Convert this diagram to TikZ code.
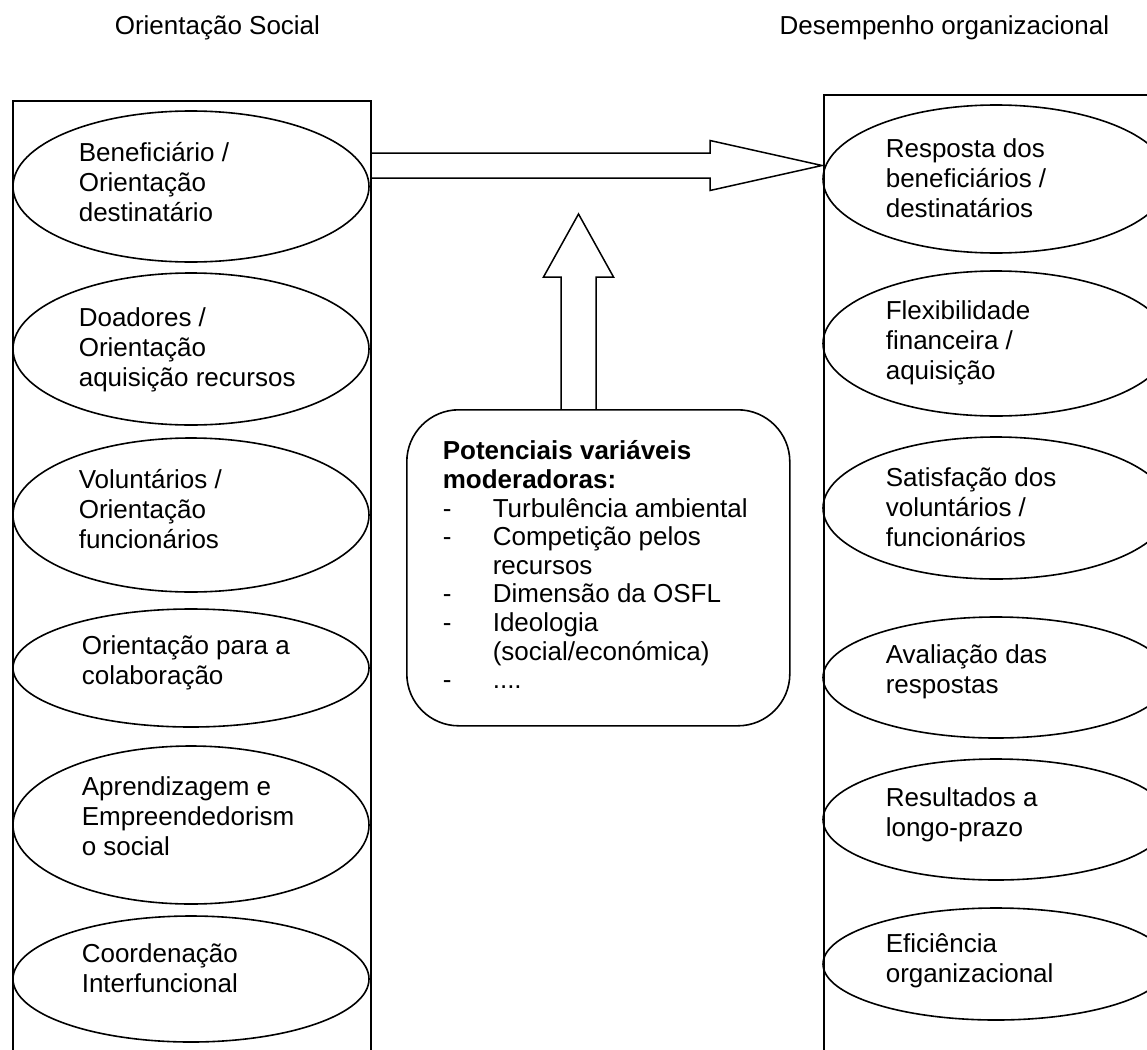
\documentclass[tikz,border=0pt]{standalone}
\usepackage{fontspec}
\setmainfont{Liberation Sans}
\usetikzlibrary{shapes.geometric,calc}
\newcommand\lsa{\rule[-7pt]{0pt}{23pt}}
\newcommand\lsb{\rule[-6.6pt]{0pt}{22pt}}
\newcommand\dsh{\makebox[50pt][l]{-}}
\begin{document}
\begin{tikzpicture}[x=1pt,y=-1pt,line width=1.6pt,
  ell/.style={draw,ellipse,inner sep=0pt},
  frame/.style={draw,rectangle,inner sep=0pt,anchor=north west},
  txt/.style={anchor=north west,inner sep=0pt,align=left,font=\fontsize{26}{30}\selectfont},
  ttl/.style={inner sep=0pt,font=\fontsize{26}{30}\selectfont},
  blk/.style={draw,line width=1.5pt,line join=miter}]
\useasboundingbox (0,0) rectangle (1147,1049);
\clip (0,0) rectangle (1147,1049);

% titles
\node[ttl,anchor=base west] (tl) at (114,35) {Orientação Social};
\node[ttl,anchor=base east] (tr) at (1110,35) {Desempenho organizacional};

% frames
\node[frame,minimum width=358pt,minimum height=1000pt] (lbox) at (12,100) {};
\node[frame,minimum width=400pt,minimum height=1000pt] (rbox) at (823,94) {};

% left ellipses
\node[ell,minimum width=356pt,minimum height=151pt] (l1) at (191,186.5) {};
\node[ell,minimum width=356pt,minimum height=152pt] (l2) at (191,349) {};
\node[ell,minimum width=356pt,minimum height=154pt] (l3) at (191,515) {};
\node[ell,minimum width=356pt,minimum height=118pt] (l4) at (191,668) {};
\node[ell,minimum width=356pt,minimum height=158pt] (l5) at (191,825) {};
\node[ell,minimum width=356pt,minimum height=126pt] (l6) at (191,979) {};

\node[txt] (t1) at (78,142) {\lsa Beneficiário /\\\lsa Orientação\\\lsa destinatário};
\node[txt] (t2) at (78,307) {\lsa Doadores /\\\lsa Orientação\\\lsa aquisição recursos};
\node[txt] (t3) at (78,469) {\lsa Voluntários /\\\lsa Orientação\\\lsa funcionários};
\node[txt] (t4) at (81,635) {\lsa Orientação para a\\\lsa colaboração};
\node[txt] (t5) at (81,776) {\lsa Aprendizagem e\\\lsa Empreendedorism\\\lsa o social};
\node[txt] (t6) at (81,943) {\lsa Coordenação\\\lsa Interfuncional};

% right ellipses
\node[ell,minimum width=346pt,minimum height=148pt] (r1) at (996,179) {};
\node[ell,minimum width=346pt,minimum height=145pt] (r2) at (996,343.5) {};
\node[ell,minimum width=346pt,minimum height=142pt] (r3) at (996,508) {};
\node[ell,minimum width=346pt,minimum height=121pt] (r4) at (996,677.5) {};
\node[ell,minimum width=346pt,minimum height=121pt] (r5) at (996,819.5) {};
\node[ell,minimum width=346pt,minimum height=112pt] (r6) at (996,964) {};

\node[txt] (s1) at (885,138) {\lsa Resposta dos\\\lsa beneficiários /\\\lsa destinatários};
\node[txt] (s2) at (885,300) {\lsa Flexibilidade\\\lsa financeira /\\\lsa aquisição};
\node[txt] (s3) at (885,467) {\lsa Satisfação dos\\\lsa voluntários /\\\lsa funcionários};
\node[txt] (s4) at (885,644) {\lsa Avaliação das\\\lsa respostas};
\node[txt] (s5) at (885,787) {\lsa Resultados a\\\lsa longo-prazo};
\node[txt] (s6) at (885,933) {\lsa Eficiência\\\lsa organizacional};

% moderators box
\node[draw,rectangle,rounded corners=52pt,inner sep=0pt,anchor=north west,
  minimum width=383pt,minimum height=316pt] (mod) at (406,409) {};
\node[txt,font=\fontsize{26}{28.6}\selectfont] (mtxt) at (442,440)
 {\lsb\textbf{Potenciais variáveis}\\
  \lsb\textbf{moderadoras:}\\
  \lsb\dsh Turbulência ambiental\\
  \lsb\dsh Competição pelos\\
  \lsb\hspace*{50pt}recursos\\
  \lsb\dsh Dimensão da OSFL\\
  \lsb\dsh Ideologia\\
  \lsb\hspace*{50pt}(social/económica)\\
  \lsb\dsh ....};

% horizontal block arrow
\coordinate (hA) at (370,165.5);
\coordinate (hB) at (822,165.5);
\draw[blk] ($(hA)+(0,-12.5)$) -- ($(hB)+(-112,-12.5)$) -- ($(hB)+(-112,-25)$) -- (hB)
  -- ($(hB)+(-112,25)$) -- ($(hB)+(-112,12.5)$) -- ($(hA)+(0,12.5)$);

% vertical block arrow
\coordinate (vA) at (578.5,409);
\coordinate (vB) at (578.5,214);
\draw[blk] ($(vA)+(-17.5,0)$) -- ($(vB)+(-17.5,63)$) -- ($(vB)+(-35,63)$) -- (vB)
  -- ($(vB)+(35,63)$) -- ($(vB)+(17.5,63)$) -- ($(vA)+(17.5,0)$);
\end{tikzpicture}
\end{document}
